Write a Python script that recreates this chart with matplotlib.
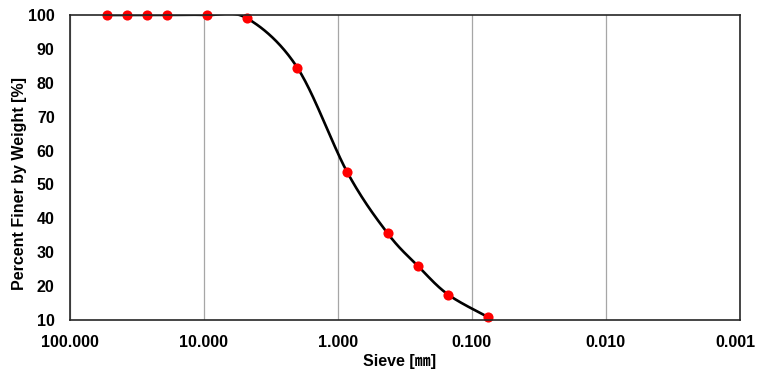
import numpy as np
import matplotlib
matplotlib.use("Agg")
import matplotlib.pyplot as plt
from matplotlib.ticker import FixedLocator, FuncFormatter
from matplotlib.transforms import ScaledTranslation

plt.rcParams['font.family'] = ['Liberation Sans', 'Noto Sans CJK JP', 'DejaVu Sans']

sieve_mm = [53.0, 37.5, 26.5, 19.0, 9.5, 4.75, 2.0, 0.85, 0.425, 0.25, 0.15, 0.075]
passing = [100, 100, 100, 100, 100, 99.0, 84.4, 53.6, 35.6, 25.8, 17.5, 10.8]
x_ticks = [100, 10, 1, 0.1, 0.01, 0.001]
y_ticks = [10, 20, 30, 40, 50, 60, 70, 80, 90, 100]


def smooth_curve(xs, ys, n=40):
    # Excel-like smoothed line (Catmull-Rom) in log-x / linear-y space
    lx = np.log10(np.asarray(xs, float))
    yy = np.asarray(ys, float)
    P = np.column_stack([lx, yy])
    P = np.vstack([P[0], P, P[-1]])
    out = []
    t = np.linspace(0, 1, n)
    for i in range(1, len(P) - 2):
        p0, p1, p2, p3 = P[i - 1], P[i], P[i + 1], P[i + 2]
        c1 = p1 + (p2 - p0) / 6.0
        c2 = p2 - (p3 - p1) / 6.0
        seg = ((1 - t) ** 3)[:, None] * p1 + (3 * (1 - t) ** 2 * t)[:, None] * c1 \
            + (3 * (1 - t) * t ** 2)[:, None] * c2 + (t ** 3)[:, None] * p2
        out.append(seg)
    pts = np.vstack(out)
    return 10 ** pts[:, 0], pts[:, 1]


fig = plt.figure(figsize=(7.58, 3.71), dpi=100)
ax = fig.add_axes([70 / 758, 1 - 320 / 371, (739.5 - 70) / 758, (320 - 15) / 371])

cx, cy = smooth_curve(sieve_mm, passing)
ax.plot(cx, cy, color='black', lw=1.9, zorder=3, clip_on=True, solid_capstyle='round')
ax.plot(sieve_mm, passing, 'o', color='#FF0000', markersize=7.3, markeredgewidth=0,
        zorder=4, clip_on=False)

ax.set_xscale('log')
ax.set_xlim(100, 0.001)
ax.set_ylim(10, 100)
ax.xaxis.set_major_locator(FixedLocator(x_ticks))
ax.xaxis.set_minor_locator(FixedLocator([]))
ax.xaxis.set_major_formatter(FuncFormatter(lambda v, p: f"{v:.3f}"))
ax.set_yticks(y_ticks)

ax.grid(True, axis='x', color='#A6A6A6', lw=0.9)
ax.grid(False, axis='y')
ax.set_axisbelow(True)

for s in ax.spines.values():
    s.set_linewidth(1.2)
    s.set_color('#262626')
    s.set_zorder(5)

ax.tick_params(axis='both', length=0, labelsize=11.5)
ax.tick_params(axis='y', pad=11)
ax.tick_params(axis='x', pad=11)
for lab in ax.get_xticklabels() + ax.get_yticklabels():
    lab.set_fontweight('bold')

ax.set_xlabel('Sieve [㎜]', fontsize=11.5, fontweight='bold')
ax.set_ylabel('Percent Finer by Weight [%]', fontsize=11.5, fontweight='bold')
ax.yaxis.set_label_coords(-0.064, 0.446)
ax.xaxis.set_label_coords(0.492, -0.11)
ax.xaxis.label.set_verticalalignment('top')

# nudge the last x tick label so it stays inside the canvas
last = ax.xaxis.get_major_ticks()[-1].label1
last.set_transform(last.get_transform() + ScaledTranslation(-4 / 100, 0, fig.dpi_scale_trans))

fig.savefig('out.png', dpi=100)
